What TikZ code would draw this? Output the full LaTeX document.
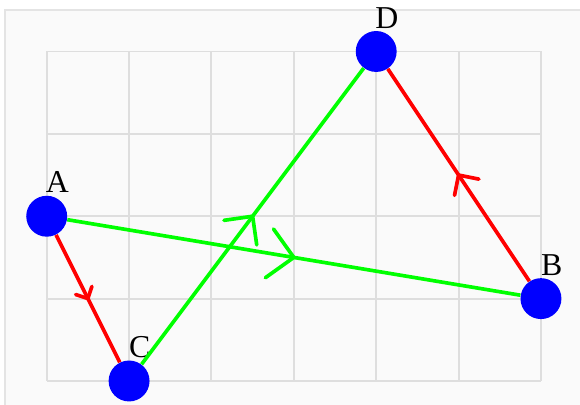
\documentclass[tikz,border=0pt]{standalone}
\usepackage{fontspec}
\setmainfont{Liberation Serif}
\usepackage{tikz}
\usetikzlibrary{decorations.markings}
\usepackage{xcolor}
\definecolor{dotBlue}{RGB}{0, 0, 255}
\definecolor{edgeRed}{RGB}{255, 0, 0}
\definecolor{edgeGreen}{RGB}{0, 255, 0}
\definecolor{gridGray}{RGB}{222, 222, 222}
\definecolor{paper}{RGB}{250, 250, 250}
\definecolor{frameGray}{RGB}{228, 228, 228}

\begin{document}
\begin{tikzpicture}[
  x=1.5cm, y=1.5cm,
  dot/.style={circle, fill=dotBlue, minimum size=21.2pt, inner sep=0pt},
  tag/.style={font=\fontsize{16.5}{18}\selectfont, inner sep=0pt},
  link/.style={line width=1.9pt},
  flow/.style={postaction={decorate, decoration={markings,
    mark=at position 0.5 with {\draw[line cap=round, line join=round] (-#1,#1) -- (0,0) -- (-#1,-#1);}}}}
]
  \useasboundingbox (-0.567,-0.291) rectangle (6.474,4.625);
  \clip (-0.567,-0.291) rectangle (6.474,4.625);
  % Background panel and grid
  \draw[frameGray, fill=paper, line width=0.6pt] (-0.506,-1) rectangle (7,4.503);
  \draw[gridGray, line width=1pt, step=1.5cm] (0,0) grid (6,4);
  % Points
  \node[dot] (A) at (0,2) {};
  \node[dot] (B) at (6,1) {};
  \node[dot] (C) at (1,0) {};
  \node[dot] (D) at (4,4) {};
  \foreach \p in {A,B,C,D} {
    \node[tag] (lab\p) at ([shift={(0.13,0.41)}]\p) {\p};
  }
  % Edges with mid arrows
  \draw[link, edgeRed, flow=4.7pt] (A) -- (C);
  \draw[link, edgeRed, flow=7.6pt] (B) -- (D);
  \draw[link, edgeGreen, flow=12.8pt] (A) -- (B);
  \draw[link, edgeGreen, flow=10.6pt] (C) -- (D);
\end{tikzpicture}
\end{document}
